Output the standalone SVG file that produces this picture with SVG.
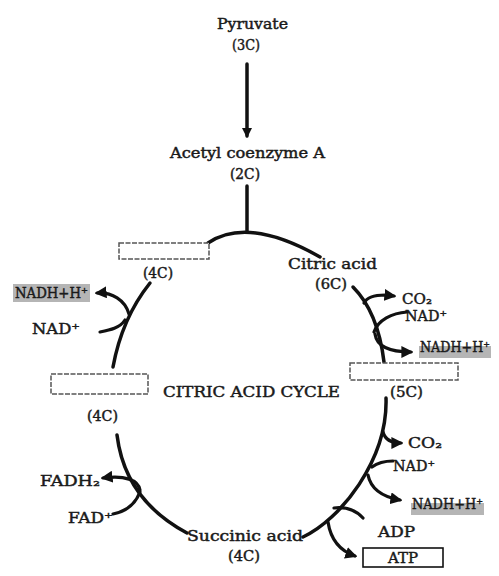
<svg xmlns="http://www.w3.org/2000/svg" width="499" height="576" viewBox="0 0 499 576">
<style>
text{font-family:"DejaVu Serif","Liberation Serif",serif;font-size:14px;fill:#1a1a1a;stroke:#1a1a1a;stroke-width:0.45}
.c{text-anchor:middle}
.ln{fill:none;stroke:#111;stroke-width:3.5;stroke-linecap:round}
.br{fill:none;stroke:#111;stroke-width:3.2;stroke-linecap:round}
.box{fill:#fff;stroke:#555;stroke-width:1.5;stroke-dasharray:5 1.5}
.hl{fill:#b5b5b5;stroke:none}
</style>
<defs>
<marker id="ah" viewBox="0 0 10 10" refX="8" refY="5" markerWidth="12" markerHeight="12" markerUnits="userSpaceOnUse" orient="auto">
<path d="M0 0 L10 5 L0 10 Z" fill="#111"/>
</marker>
<marker id="ah2" viewBox="0 0 10 10" refX="8" refY="5" markerWidth="16" markerHeight="10" markerUnits="userSpaceOnUse" orient="auto">
<path d="M0 0 L10 5 L0 10 Z" fill="#111"/>
</marker>
</defs>
<g id="connectors">
<path class="ln" d="M247 64 L247 136" marker-end="url(#ah2)"/>
<path class="ln" d="M247 186 L247 232"/>
<path class="ln" d="M208 243 Q248 216 320 257"/>
<path class="ln" d="M150 283 Q122 318 113 367"/>
<path class="br" d="M129 314 C125 300 112 292 97 293" marker-end="url(#ah)"/>
<path class="br" d="M100 332 C110 330 120 328 125 320"/>
<path class="ln" d="M353 287 Q378 312 384 362"/>
<path class="br" d="M364 303 Q368 295 385 295 L394 296" marker-end="url(#ah)"/>
<path class="br" d="M407 312 C392 313 378 320 374 332"/>
<path class="br" d="M375 334 C377 348 392 352 411 352" marker-end="url(#ah)"/>
<path class="ln" d="M386 398 C388 460 340 520 303 537"/>
<path class="br" d="M383 432 Q386 443 401 443" marker-end="url(#ah)"/>
<path class="br" d="M393 461 Q380 461 372 467"/>
<path class="br" d="M368 475 Q372 495 400 500" marker-end="url(#ah)"/>
<path class="br" d="M334 508 Q352 506 363 518"/>
<path class="br" d="M328 522 Q332 548 355 556" marker-end="url(#ah)"/>
<path class="ln" d="M117 435 Q125 500 187 533"/>
<path class="br" d="M140 490 C138 480 125 475 103 478" marker-end="url(#ah)"/>
<path class="br" d="M113 514 Q133 510 140 492"/>
</g>
<g id="pyruvate"><text x="217" y="29" textLength="71" lengthAdjust="spacingAndGlyphs">Pyruvate</text><text x="232" y="50" textLength="28" lengthAdjust="spacingAndGlyphs">(3C)</text></g>
<g id="acetyl"><text x="170" y="158" textLength="155" lengthAdjust="spacingAndGlyphs">Acetyl coenzyme A</text><text x="230" y="179" textLength="30" lengthAdjust="spacingAndGlyphs">(2C)</text></g>
<g id="oxaloacetate"><rect class="box" x="119" y="243" width="90" height="16"/><text x="143" y="278" textLength="30" lengthAdjust="spacingAndGlyphs">(4C)</text></g>
<g id="citric"><text x="288" y="269" textLength="89" lengthAdjust="spacingAndGlyphs">Citric acid</text><text x="315" y="289" textLength="32" lengthAdjust="spacingAndGlyphs">(6C)</text></g>
<g id="nadh1"><rect class="hl" x="13" y="284" width="77" height="18"/><text x="15" y="298" textLength="73" lengthAdjust="spacingAndGlyphs">NADH+H⁺</text></g>
<g id="nad1"><text x="32" y="334" textLength="48" lengthAdjust="spacingAndGlyphs">NAD⁺</text></g>
<g id="co2a"><text x="402" y="304" textLength="30" lengthAdjust="spacingAndGlyphs">CO₂</text></g>
<g id="nad2"><text x="405" y="321" textLength="42" lengthAdjust="spacingAndGlyphs">NAD⁺</text></g>
<g id="nadh2"><rect class="hl" x="419" y="346" width="72" height="12"/><text x="420" y="352" textLength="70" lengthAdjust="spacingAndGlyphs">NADH+H⁺</text></g>
<g id="malate"><rect class="box" x="51" y="374" width="97" height="20"/><text x="87" y="421" textLength="31" lengthAdjust="spacingAndGlyphs">(4C)</text></g>
<g id="cycle"><text x="163" y="397" textLength="177" lengthAdjust="spacingAndGlyphs">CITRIC ACID CYCLE</text></g>
<g id="ketoglutarate"><rect class="box" x="350" y="363" width="108" height="17"/><text x="390" y="397" textLength="33" lengthAdjust="spacingAndGlyphs">(5C)</text></g>
<g id="co2b"><text x="408" y="448" textLength="34" lengthAdjust="spacingAndGlyphs">CO₂</text></g>
<g id="nad3"><text x="393" y="471" textLength="42" lengthAdjust="spacingAndGlyphs">NAD⁺</text></g>
<g id="nadh3"><rect class="hl" x="411" y="503" width="73" height="12"/><text x="412" y="509" textLength="71" lengthAdjust="spacingAndGlyphs">NADH+H⁺</text></g>
<g id="adp"><text x="378" y="537" textLength="37" lengthAdjust="spacingAndGlyphs">ADP</text></g>
<g id="atp"><rect x="363" y="548" width="80" height="19" fill="#fff" stroke="#111" stroke-width="1.6"/><text x="388" y="563" textLength="30" lengthAdjust="spacingAndGlyphs">ATP</text></g>
<g id="fadh2"><text x="40" y="486" textLength="60" lengthAdjust="spacingAndGlyphs">FADH₂</text></g>
<g id="fad"><text x="68" y="523" textLength="45" lengthAdjust="spacingAndGlyphs">FAD⁺</text></g>
<g id="succinic"><text x="187" y="541" textLength="116" lengthAdjust="spacingAndGlyphs">Succinic acid</text><text x="228" y="561" textLength="32" lengthAdjust="spacingAndGlyphs">(4C)</text></g>
</svg>
